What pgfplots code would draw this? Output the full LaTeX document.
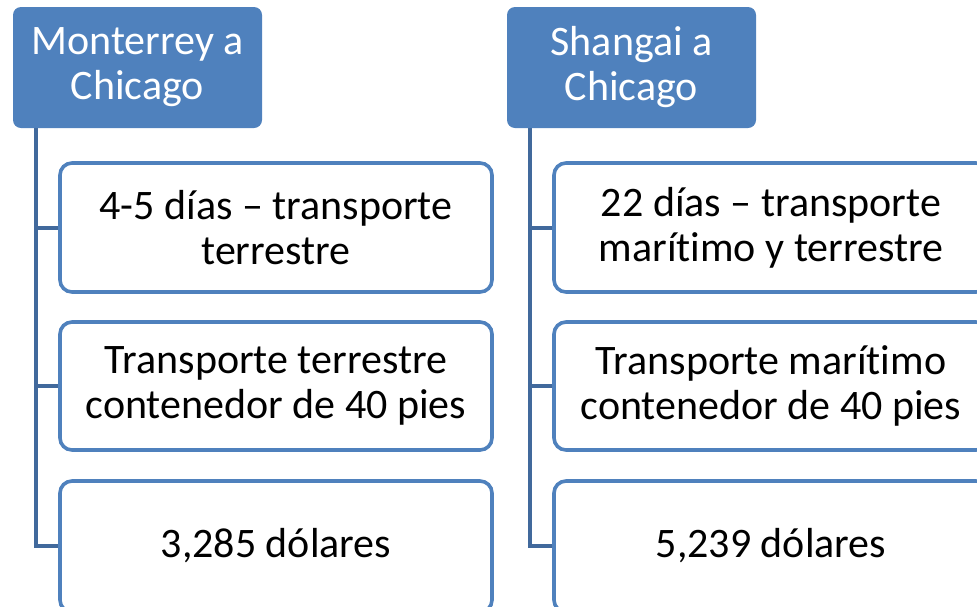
\documentclass[border=0pt]{standalone}
\usepackage{pgfplots}
\pgfplotsset{compat=1.18}
\usepackage{fontspec}
\setmainfont{Carlito}[Ligatures=NoCommon]
\definecolor{acc}{HTML}{4F81BD}
\definecolor{conn}{HTML}{41699C}
\begin{document}
\begin{tikzpicture}
\begin{axis}[name=ax, scale only axis, width=488.5pt, height=303pt,
  xmin=0, xmax=977, ymin=0, ymax=606, y dir=reverse,
  axis lines=none, ticks=none, clip=false]
% connectors
\addplot[conn, line width=2pt, no marks] coordinates {(36,128) (36,546) (60,546)};
\addplot[conn, line width=2pt, no marks] coordinates {(36,227.5) (60,227.5)};
\addplot[conn, line width=2pt, no marks] coordinates {(36,386) (60,386)};
\addplot[conn, line width=2pt, no marks] coordinates {(530,128) (530,546) (554,546)};
\addplot[conn, line width=2pt, no marks] coordinates {(530,227.5) (554,227.5)};
\addplot[conn, line width=2pt, no marks] coordinates {(530,386) (554,386)};
% headers
\fill[acc, rounded corners=4pt] (axis cs:13,7) rectangle (axis cs:262,128);
\fill[acc, rounded corners=4pt] (axis cs:507,7) rectangle (axis cs:756,128);
\node[align=center, text=white, font=\fontsize{21}{22.5}\selectfont] at (axis cs:137.5,67.5) {Monterrey a\\Chicago};
\node[align=center, text=white, font=\fontsize{21}{22.5}\selectfont] at (axis cs:631.5,67.5) {Shangai a\\Chicago};
% child boxes
\draw[acc, line width=1.8pt, fill=white, rounded corners=6pt] (axis cs:60,163) rectangle (axis cs:492,292);
\draw[acc, line width=1.8pt, fill=white, rounded corners=6pt] (axis cs:60,322) rectangle (axis cs:492,450);
\draw[acc, line width=1.8pt, fill=white, rounded corners=6pt] (axis cs:60,481) rectangle (axis cs:492,612);
\draw[acc, line width=1.8pt, fill=white, rounded corners=6pt] (axis cs:554,163) rectangle (axis cs:988,292);
\draw[acc, line width=1.8pt, fill=white, rounded corners=6pt] (axis cs:554,322) rectangle (axis cs:988,450);
\draw[acc, line width=1.8pt, fill=white, rounded corners=6pt] (axis cs:554,481) rectangle (axis cs:988,612);
\node[align=center, font=\fontsize{21}{22.5}\selectfont] at (axis cs:276,227.5) {4-5 días – transporte\\terrestre};
\node[align=center, font=\fontsize{21}{22.5}\selectfont] at (axis cs:276,386) {Transporte terrestre\\contenedor de 40 pies};
\node[align=center, font=\fontsize{21}{22.5}\selectfont] at (axis cs:276,546) {3,285 dólares};
\node[align=center, font=\fontsize{21}{22.5}\selectfont] at (axis cs:771,227.5) {22 días – transporte\\marítimo y terrestre};
\node[align=center, font=\fontsize{21}{22.5}\selectfont] at (axis cs:771,386) {Transporte marítimo\\contenedor de 40 pies};
\node[align=center, font=\fontsize{21}{22.5}\selectfont] at (axis cs:771,546) {5,239 dólares};
\end{axis}
\pgfresetboundingbox
\path (ax.south west) rectangle (ax.north east);
\end{tikzpicture}
\end{document}
